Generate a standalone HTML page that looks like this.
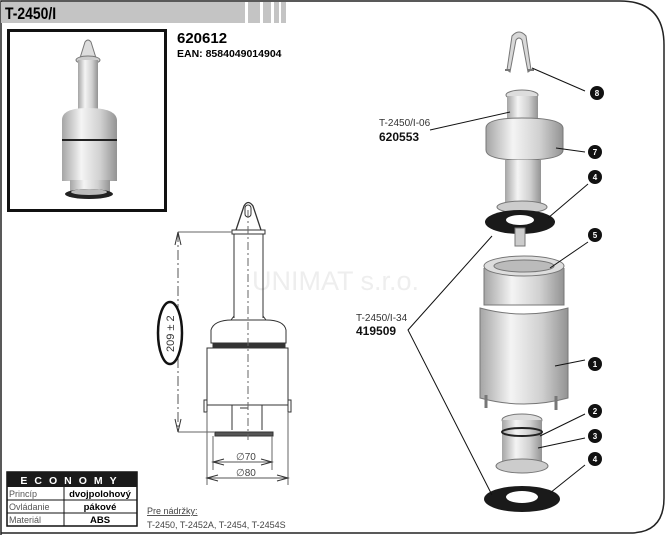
<!DOCTYPE html>
<html><head><meta charset="utf-8"><style>
html,body{margin:0;padding:0;background:#fff;}
svg{display:block;}
text{font-family:"Liberation Sans",sans-serif;}
</style></head><body>
<svg width="666" height="536" viewBox="0 0 666 536" xmlns="http://www.w3.org/2000/svg">
<defs>
<linearGradient id="g" x1="0" x2="1" y1="0" y2="0">
<stop offset="0" stop-color="#a5a5a5"/><stop offset="0.35" stop-color="#f4f4f4"/><stop offset="0.7" stop-color="#d0d0d0"/><stop offset="1" stop-color="#939393"/>
</linearGradient>
</defs>
<path d="M1,535 L1,1 L620,1 Q664,1 664,45 L664,498 Q664,533 630,533 L1,533" fill="none" stroke="#222" stroke-width="1.5"/>
<rect x="1" y="2" width="244" height="21" fill="#c4c4c4"/>
<rect x="248" y="2" width="12" height="21" fill="#c4c4c4"/>
<rect x="263" y="2" width="8" height="21" fill="#c4c4c4"/>
<rect x="274" y="2" width="5" height="21" fill="#c4c4c4"/>
<rect x="281" y="2" width="5" height="21" fill="#c4c4c4"/>
<text x="0" y="0" font-size="17" font-weight="bold" transform="translate(5,19) scale(0.82,1)">T-2450/I</text>
<rect x="8.5" y="30.5" width="157" height="180" fill="#fff" stroke="#111" stroke-width="3"/>
<g>
<path d="M80,58 L85,42 Q88,38 91,42 L96,58 Z" fill="#ddd" stroke="#777"/>
<ellipse cx="88" cy="60" rx="12" ry="4" fill="#ccc" stroke="#777"/>
<rect x="78" y="60" width="20" height="60" fill="url(#g)"/>
<path d="M62,120 Q62,108 88,108 Q116,108 117,120 L117,140 L62,140 Z" fill="url(#g)"/>
<path d="M62,140 L117,140" stroke="#222" stroke-width="2"/>
<rect x="62" y="141" width="55" height="40" fill="url(#g)"/>
<rect x="70" y="180" width="40" height="12" fill="url(#g)"/>
<ellipse cx="89" cy="194" rx="24" ry="5" fill="#222"/>
<ellipse cx="89" cy="192" rx="18" ry="3" fill="#bbb"/>
</g>
<text x="177" y="43" font-size="15" font-weight="bold">620612</text>
<text x="177" y="57" font-size="10.5" font-weight="bold">EAN: 8584049014904</text>
<text x="252" y="290" font-size="27" fill="#eeeeee">UNIMAT s.r.o.</text>
<g fill="none" stroke="#333" stroke-width="1">
<path d="M236,230 L244,206 Q248,199 253,206 L261,230" stroke-width="1.3"/>
<rect x="245" y="205" width="6" height="12" rx="3"/>
<rect x="232" y="230" width="33" height="4" fill="#fff"/>
<path d="M234,234 L234,318 M263,234 L263,318"/>
<path d="M231,320 L234,316 M266,320 L263,316"/>
<path d="M211,343 L211,330 Q214,320 232,320 L266,320 Q284,320 286,330 L286,343 Z"/>
<rect x="213" y="343" width="72" height="5" fill="#333"/>
<rect x="207" y="348" width="81" height="57"/>
<rect x="204" y="400" width="3" height="12"/><rect x="288" y="400" width="3" height="12"/>
<path d="M232,405 L232,430 M262,405 L262,430"/>
<path d="M240,408 L248,408 L248,402" />
<rect x="215" y="432" width="58" height="4" fill="#555"/>
<path d="M248,210 L248,440" stroke-dasharray="8,3,2,3" stroke="#666"/>
<path d="M178,232 L232,232 M178,432 L215,432" stroke="#666"/>
<path d="M178,232 L178,432" stroke-dasharray="10,3,2,3" stroke="#555"/>
<path d="M175,245 L178,232 L181,245 M175,419 L178,432 L181,419"/>
<path d="M213,436 L213,470 M272,436 L272,470 M207,412 L207,485 M288,412 L288,485" stroke="#666"/>
<path d="M213,462 L272,462 M207,478 L288,478" stroke="#555"/>
<path d="M224,459 L213,462 L224,465 M261,459 L272,462 L261,465 M218,475 L207,478 L218,481 M277,475 L288,478 L277,481" />
</g>
<ellipse cx="170" cy="333" rx="12" ry="31" fill="#fff" stroke="#111" stroke-width="2.5"/>
<text x="0" y="0" font-size="11" fill="#333" transform="translate(174,352) rotate(-90)">209 ± 2</text>
<text x="236" y="460" font-size="10" fill="#444">∅70</text>
<text x="236" y="476" font-size="10" fill="#444">∅80</text>
<rect x="7" y="472" width="130" height="54" fill="#fff" stroke="#111" stroke-width="1.5"/>
<rect x="7" y="472" width="130" height="15" fill="#1a1a1a"/>
<text x="72" y="484" font-size="10.5" font-weight="bold" fill="#fff" text-anchor="middle" letter-spacing="7">ECONOMY</text>
<path d="M7,500 L137,500 M7,513 L137,513 M64,487 L64,526" stroke="#111" stroke-width="1"/>
<text x="9" y="497" font-size="9" fill="#555">Princíp</text>
<text x="9" y="510" font-size="9" fill="#555">Ovládanie</text>
<text x="9" y="523" font-size="9" fill="#555">Materiál</text>
<text x="100" y="497" font-size="9.5" font-weight="bold" text-anchor="middle">dvojpolohový</text>
<text x="100" y="510" font-size="9.5" font-weight="bold" text-anchor="middle">pákové</text>
<text x="100" y="523" font-size="9.5" font-weight="bold" text-anchor="middle">ABS</text>
<text x="147" y="514" font-size="9" fill="#444" text-decoration="underline">Pre nádržky:</text>
<text x="147" y="528" font-size="9" fill="#444">T-2450, T-2452A, T-2454, T-2454S</text>
<g stroke="#777" stroke-width="1">
<path d="M507,70 L512,36 Q519,28 526,36 L531,70 L528,72 L522,40 Q519,36 516,40 L510,72 Z" fill="#d8d8d8"/>
<path d="M505,70 L510,70 M528,70 L534,70" stroke-width="2"/>
<ellipse cx="522" cy="95" rx="16" ry="5" fill="#ddd"/>
<rect x="507" y="96" width="31" height="34" fill="url(#g)" stroke="none"/>
<path d="M486,128 Q486,118 522,118 Q562,118 563,128 L563,150 Q563,160 522,160 Q486,160 486,150 Z" fill="url(#g)"/>
<rect x="505" y="160" width="36" height="45" fill="url(#g)" stroke="none"/>
<ellipse cx="522" cy="207" rx="25" ry="6" fill="#ccc"/>
<ellipse cx="520" cy="222" rx="35" ry="12" fill="#1a1a1a" stroke="none"/>
<ellipse cx="520" cy="220" rx="14" ry="5" fill="#fff" stroke="none"/>
<rect x="515" y="228" width="10" height="18" fill="#ccc"/>
<path d="M484,268 L484,305 L564,305 L564,268" fill="url(#g)"/>
<ellipse cx="524" cy="266" rx="40" ry="10" fill="#ddd"/>
<ellipse cx="524" cy="266" rx="30" ry="6" fill="#bbb"/>
<path d="M480,308 L480,398 Q524,410 568,398 L568,308 Q524,320 480,308 Z" fill="url(#g)"/>
<path d="M486,395 L486,408 M556,396 L556,410" stroke-width="3"/>
<ellipse cx="522" cy="420" rx="20" ry="6" fill="#ddd"/>
<rect x="502" y="420" width="40" height="45" fill="url(#g)" stroke="none"/>
<ellipse cx="522" cy="432" rx="20" ry="4" fill="none" stroke="#222" stroke-width="2"/>
<ellipse cx="522" cy="466" rx="26" ry="7" fill="#ccc"/>
<ellipse cx="522" cy="499" rx="38" ry="13" fill="#1a1a1a" stroke="none"/>
<ellipse cx="522" cy="497" rx="16" ry="6" fill="#fff" stroke="none"/>
</g>
<g stroke="#111" stroke-width="1" fill="none">
<path d="M532,68 L585,91 M556,148 L585,152 M548,218 L588,184 M550,268 L588,242 M555,366 L585,360 M540,436 L585,414 M538,448 L585,438 M550,493 L585,465"/>
<path d="M430,130 L510,112"/>
<path d="M492,236 L408,330 L492,495"/>
</g>
<g font-size="8" font-weight="bold" fill="#fff" text-anchor="middle">
<circle cx="597" cy="93" r="7" fill="#111"/><text x="597" y="96">8</text>
<circle cx="595" cy="152" r="7" fill="#111"/><text x="595" y="155">7</text>
<circle cx="595" cy="177" r="7" fill="#111"/><text x="595" y="180">4</text>
<circle cx="595" cy="235" r="7" fill="#111"/><text x="595" y="238">5</text>
<circle cx="595" cy="364" r="7" fill="#111"/><text x="595" y="367">1</text>
<circle cx="595" cy="411" r="7" fill="#111"/><text x="595" y="414">2</text>
<circle cx="595" cy="436" r="7" fill="#111"/><text x="595" y="439">3</text>
<circle cx="595" cy="459" r="7" fill="#111"/><text x="595" y="462">4</text>
</g>
<text x="379" y="126" font-size="10" fill="#333">T-2450/I-06</text>
<text x="379" y="141" font-size="12" font-weight="bold" fill="#111">620553</text>
<text x="356" y="321" font-size="10" fill="#333">T-2450/I-34</text>
<text x="356" y="335" font-size="12" font-weight="bold" fill="#111">419509</text>
</svg>
</body></html>
